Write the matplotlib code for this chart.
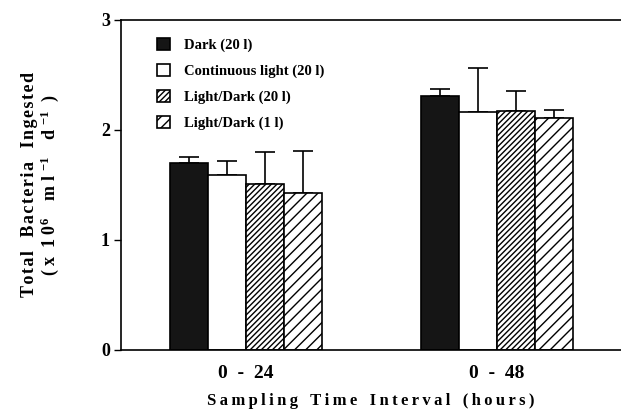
import matplotlib.pyplot as plt
import numpy as np

plt.rcParams['font.family'] = ['Liberation Serif', 'DejaVu Serif']
plt.rcParams['mathtext.fontset'] = 'custom'
plt.rcParams['mathtext.rm'] = 'Liberation Serif:bold'
plt.rcParams['mathtext.bf'] = 'Liberation Serif:bold'
plt.rcParams['mathtext.default'] = 'bf'
plt.rcParams['hatch.linewidth'] = 1.0

groups = ["0  -  24", "0  -  48"]
series = ["Dark (20 l)", "Continuous light (20 l)", "Light/Dark (20 l)", "Light/Dark (1 l)"]
values = [
    [1.70, 2.31],
    [1.59, 2.16],
    [1.51, 2.17],
    [1.43, 2.11],
]
errors = [
    [0.05, 0.06],
    [0.13, 0.40],
    [0.29, 0.18],
    [0.38, 0.07],
]
colors = ["#151515", "white", "white", "white"]
hatches = [None, None, "//////", "///"]


def spaced(s, gap="\u2009", wgap="   "):
    # loose letter spacing like the printed figure
    words = s.split(" ")
    return wgap.join(gap.join(wd) for wd in words)


fig = plt.figure(figsize=(6.21, 4.15), dpi=100)
ax = fig.add_axes([0.195, 0.157, 0.805, 0.795])

x = np.arange(len(groups))
w = 0.151
for i, name in enumerate(series):
    pos = x + (i - 1.5) * w
    err = np.array(errors[i])
    ax.bar(pos, values[i], w, color=colors[i], edgecolor="black", linewidth=1.2,
           hatch=hatches[i], label=name, zorder=2)
    ax.errorbar(pos, values[i], yerr=[np.zeros_like(err), err], fmt="none",
                ecolor="black", elinewidth=1.2, capsize=7, capthick=1.2, zorder=1)

ax.set_xlim(-0.498, 1.494)
ax.set_ylim(0, 3)
ax.set_yticks([0, 1, 2, 3])
ax.set_xticks(x)
ax.set_xticklabels(groups, fontsize=14, fontweight="bold")
ax.tick_params(axis="x", length=0, pad=11)
ax.tick_params(axis="y", length=5, width=1, labelsize=13, pad=3)
for lab in ax.get_yticklabels():
    lab.set_fontweight("bold")

ax.spines["right"].set_visible(False)
for s in ["left", "top", "bottom"]:
    ax.spines[s].set_linewidth(1.2)

ax.set_xlabel(spaced("Sampling Time Interval (hours)"),
              fontsize=12, fontweight="bold", labelpad=8)
ylab2 = "( x  1 0$^{6}$    m l $^{-1}$    d $^{-1}$  )"
ax.set_ylabel(spaced("Total Bacteria Ingested", "\u200a", "   ") + "\n" + ylab2,
              fontsize=13, fontweight="bold", labelpad=29, linespacing=1.0)

leg = ax.legend(loc="upper left", bbox_to_anchor=(0.045, 0.985), frameon=False,
                prop={"size": 10.5, "weight": "bold"}, handlelength=0.9, handleheight=0.9,
                labelspacing=0.8, handletextpad=1.0)

fig.savefig("out.png", dpi=100)
